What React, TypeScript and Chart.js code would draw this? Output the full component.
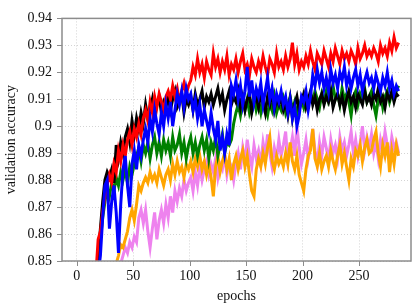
import React, { useEffect, useRef } from "react";
import { Chart, registerables } from "chart.js";

Chart.register(...registerables);

// epochs sampled every 2 epochs (1, 3, ..., 285)
const epochs: number[] = Array.from({ length: 143 }, (_, i) => 2 * i + 1);

// validation accuracy, in thousandths
const redAcc = [
  700, 740, 770, 790, 805, 815, 825, 835, 845, 858,
  861, 868, 874, 878, 882, 879, 886, 883, 891, 887,
  893, 889, 895, 898, 893, 899, 896, 901, 897, 903,
  906, 902, 909, 905, 911, 907, 912, 909, 906, 911,
  913, 910, 915, 911, 914, 909, 913, 916, 912, 915,
  917, 922, 919, 925, 920, 923, 918, 924, 921, 919,
  927, 922, 925, 920, 924, 921, 926, 919, 923, 921,
  925, 920, 924, 927, 921, 923, 919, 925, 922, 920,
  924, 921, 926, 922, 919, 925, 923, 920, 927, 922,
  924, 921, 926, 922, 925, 931, 923, 927, 921, 924,
  922, 926, 923, 928, 924, 921, 927, 925, 923, 928,
  925, 922, 927, 924, 929, 926, 923, 928, 925, 927,
  924, 928, 926, 923, 929, 925, 927, 930, 926, 928,
  926, 929, 927, 924, 930, 927, 929, 926, 931, 928,
  933, 929, 931,
];

const blackAcc = [
  700, 735, 765, 790, 805, 815, 825, 835, 843, 851,
  862, 872, 880, 883, 881, 884, 879, 893, 888, 894,
  890, 896, 899, 894, 902, 897, 903, 899, 905, 901,
  908, 903, 906, 910, 904, 908, 911, 905, 909, 907,
  911, 906, 910, 913, 907, 909, 912, 905, 910, 908,
  911, 906, 912, 908, 910, 913, 907, 911, 909, 912,
  908, 911, 914, 909, 912, 906, 910, 913, 908, 911,
  909, 913, 907, 911, 906, 910, 912, 905, 909, 911,
  907, 912, 909, 905, 911, 908, 913, 906, 910, 908,
  911, 906, 909, 904, 910, 903, 908, 911, 906, 909,
  912, 907, 910, 913, 908, 911, 906, 910, 912, 908,
  911, 909, 913, 907, 910, 912, 908, 911, 906, 910,
  913, 909, 911, 907, 912, 910, 908, 913, 909, 911,
  908, 912, 910, 914, 909, 911, 907, 912, 910, 913,
  909, 912, 911,
];

const blueAcc = [
  680, 710, 740, 770, 790, 805, 815, 825, 835, 845,
  852, 866, 878, 880, 862, 872, 878, 868, 853, 871,
  884, 889, 878, 870, 886, 891, 884, 893, 889, 895,
  899, 894, 903, 898, 906, 901, 897, 905, 900, 908,
  903, 909, 900, 906, 912, 908, 913, 907, 914, 910,
  912, 906, 910, 903, 908, 900, 906, 902, 898, 905,
  899, 895, 902, 891, 896, 890, 897, 893, 915, 912,
  917, 910, 915, 908, 913, 922, 911, 917, 909, 914,
  911, 916, 908, 913, 918, 910, 914, 907, 912, 909,
  913, 908, 911, 905, 910, 903, 907, 900, 904, 911,
  909, 913, 906, 911, 919, 915, 921, 916, 920, 914,
  918, 913, 921, 916, 919, 914, 920, 917, 922, 915,
  919, 914, 918, 921, 915, 919, 913, 917, 920, 916,
  918, 914, 919, 916, 913, 918, 915, 920, 914, 917,
  912, 915, 913,
];

const greenAcc = [
  690, 720, 750, 775, 795, 810, 820, 830, 840, 851,
  858, 866, 872, 877, 874, 879, 876, 881, 878, 883,
  880, 884, 879, 885, 882, 886, 889, 892, 887, 893,
  890, 894, 888, 893, 896, 890, 894, 889, 895, 891,
  894, 889, 896, 891, 893, 897, 890, 894, 888, 893,
  896, 890, 894, 889, 893, 896, 891, 895, 888, 894,
  891, 896, 889, 893, 897, 890, 894, 893, 895, 901,
  905, 908, 904, 909, 906, 910, 905, 908, 911, 906,
  909, 905, 910, 907, 904, 909, 906, 911, 905, 908,
  906, 910, 905, 908, 911, 906, 909, 904, 908, 910,
  907, 911, 908, 912, 909, 913, 910, 907, 912, 909,
  913, 909, 911, 915, 910, 912, 908, 914, 910, 912,
  909, 904, 911, 913, 908, 912, 910, 914, 909, 911,
  913, 908, 904, 910, 912, 907, 911, 913, 909, 912,
  910, 913, 915,
];

const orangeAcc = [
  650, 680, 710, 740, 760, 780, 795, 805, 815, 825,
  832, 836, 839, 841, 843, 845, 847, 849, 852, 856,
  855, 858, 861, 866, 869, 865, 871, 878, 876, 879,
  881, 879, 883, 880, 882, 879, 884, 881, 878, 882,
  884, 880, 886, 882, 887, 883, 885, 881, 886, 884,
  887, 883, 888, 885, 889, 884, 887, 882, 886, 881,
  874, 885, 889, 883, 887, 890, 884, 888, 880, 886,
  889, 884, 888, 891, 885, 889, 882, 876, 874, 884,
  888, 885, 890, 886, 892, 896, 887, 884, 889, 886,
  888, 885, 890, 886, 894, 887, 884, 889, 882, 879,
  876, 884, 889, 891, 899, 888, 885, 890, 884, 887,
  889, 885, 891, 887, 884, 889, 893, 886, 890, 885,
  880, 888, 885, 891, 889, 893, 887, 892, 895, 890,
  891, 895, 898, 890, 885, 893, 889, 894, 883, 891,
  886, 893, 889,
];

const violetAcc = [
  620, 650, 680, 710, 735, 755, 770, 785, 795, 805,
  812, 818, 823, 828, 832, 836, 840, 843, 846, 849,
  852, 855, 853, 857, 855, 859, 857, 866, 869, 864,
  869, 861, 855, 862, 868, 858, 865, 869, 864, 871,
  866, 874, 868, 876, 872, 877, 874, 880, 876, 879,
  881, 876, 883, 878, 885, 880, 884, 887, 882, 886,
  883, 888, 881, 886, 884, 889, 882, 887, 885, 880,
  886, 890, 884, 892, 887, 895, 889, 885, 893, 888,
  891, 886, 894, 889, 897, 890, 885, 892, 888, 895,
  889, 893, 898, 887, 891, 896, 889, 900, 892, 886,
  890, 895, 888, 893, 899, 891, 886, 894, 889, 896,
  892, 887, 895, 890, 893, 888, 896, 891, 894, 889,
  893, 898, 890, 895, 889, 894, 900, 891, 896, 892,
  897, 890, 894, 888, 895, 891, 898, 893, 889, 896,
  892, 894, 890,
];

const xTickValues = [0, 50, 100, 150, 200, 250];
const yTickValues = [0.85, 0.86, 0.87, 0.88, 0.89, 0.9, 0.91, 0.92, 0.93, 0.94];
const yTickLabels = ["0.85", "0.86", "0.87", "0.88", "0.89", "0.9", "0.91", "0.92", "0.93", "0.94"];

const FONT = "'Liberation Serif', 'Times New Roman', serif";

const toPoints = (vals: number[]) => vals.map((v, i) => ({ x: epochs[i], y: v / 1000 }));

const framePlugin = {
  id: "frame",
  beforeDatasetsDraw(chart: any) {
    chart.ctx.miterLimit = 8;
  },
  afterDatasetsDraw(chart: any) {
    const { ctx, chartArea, scales } = chart;
    const { left, right, top, bottom } = chartArea;
    ctx.save();
    ctx.strokeStyle = "#8c8c8c";
    ctx.lineWidth = 1.5;
    ctx.strokeRect(left, top, right - left, bottom - top);
    ctx.lineWidth = 1;
    ctx.beginPath();
    for (const v of yTickValues) {
      const py = Math.round(scales.y.getPixelForValue(v)) + 0.5;
      ctx.moveTo(left - 5, py);
      ctx.lineTo(left, py);
    }
    for (const v of xTickValues) {
      const px = Math.round(scales.x.getPixelForValue(v)) + 0.5;
      ctx.moveTo(px, bottom);
      ctx.lineTo(px, bottom + 5);
    }
    ctx.stroke();
    ctx.restore();
  },
};

export default function App() {
  const ref = useRef<HTMLCanvasElement | null>(null);
  useEffect(() => {
    if (!ref.current) return;
    const mk = (label: string, vals: number[], color: string, order: number) => ({
      label,
      data: toPoints(vals),
      borderColor: color,
      backgroundColor: color,
      borderWidth: 3,
      pointRadius: 0,
      tension: 0,
      fill: false,
      clip: 0,
      order,
    });
    const chart = new Chart(ref.current, {
      type: "line",
      data: {
        datasets: [
          mk("blue", blueAcc, "#0000ff", 0),
          mk("red", redAcc, "#ff0000", 1),
          mk("black", blackAcc, "#000000", 2),
          mk("green", greenAcc, "#008000", 3),
          mk("orange", orangeAcc, "#ffa500", 4),
          mk("violet", violetAcc, "#ee82ee", 5),
        ] as any,
      },
      options: {
        animation: false,
        responsive: false,
        devicePixelRatio: 1,
        layout: { padding: { left: 0, right: 3, top: 9, bottom: 0 } },
        plugins: { legend: { display: false }, tooltip: { enabled: false } },
        scales: {
          x: {
            type: "linear",
            min: -13,
            max: 296,
            afterBuildTicks: (s: any) => {
              s.ticks = xTickValues.map((v) => ({ value: v }));
            },
            afterFit: (s: any) => {
              s.height = 47;
            },
            grid: { color: "#d4d4d4", drawTicks: false, lineWidth: 1 },
            border: { display: false, dash: [1, 2] },
            ticks: {
              padding: 7,
              color: "#111",
              font: { family: FONT, size: 14 },
              maxRotation: 0,
              callback: (v: any) => String(v),
            },
            title: {
              display: true,
              text: "epochs",
              color: "#111",
              font: { family: FONT, size: 14 },
              padding: { top: 0, bottom: 3 },
            },
          },
          y: {
            type: "linear",
            min: 0.85,
            max: 0.94,
            afterBuildTicks: (s: any) => {
              s.ticks = yTickValues.map((v) => ({ value: v }));
            },
            afterFit: (s: any) => {
              s.width = 62;
            },
            grid: { color: "#d4d4d4", drawTicks: false, lineWidth: 1 },
            border: { display: false, dash: [1, 2] },
            ticks: {
              padding: 10,
              color: "#111",
              font: { family: FONT, size: 14 },
              callback: (_v: any, i: number) => yTickLabels[i],
            },
            title: {
              display: true,
              text: "validation accuracy",
              color: "#111",
              font: { family: FONT, size: 14 },
              padding: { top: 3, bottom: 0 },
            },
          },
        },
      },
      plugins: [framePlugin],
    });
    return () => chart.destroy();
  }, []);
  return (
    <div style={{ position: "fixed", left: 0, top: 0, width: 414, height: 308, background: "#fff" }}>
      <canvas ref={ref} width={414} height={308} style={{ width: 414, height: 308, display: "block" }} />
    </div>
  );
}
